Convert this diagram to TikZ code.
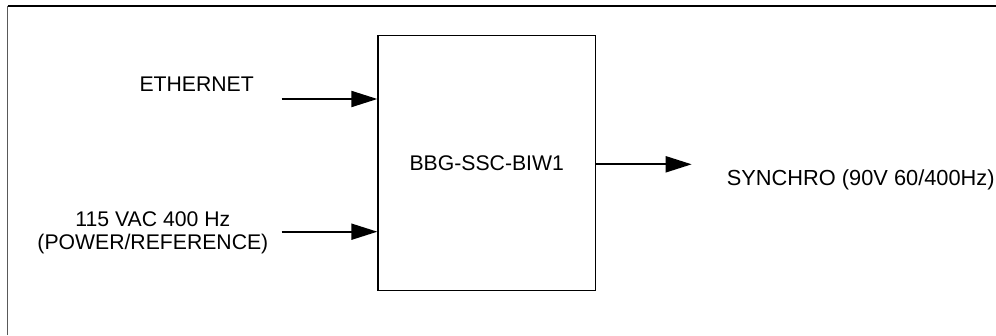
\documentclass[tikz,border=0pt]{standalone}
\usepackage{fontspec}
\setmainfont{Liberation Sans}
\usetikzlibrary{arrows.meta}
\tikzset{
  lbl/.style={inner sep=0pt, font=\fontsize{21.2}{22.7}\selectfont},
  blockbox/.style={draw=black, line width=1.3pt, inner sep=0pt,
    minimum width=217.5pt, minimum height=255pt,
    font=\fontsize{21.2}{22.7}\selectfont},
  sig/.style={line width=2pt, -{Triangle[length=26pt,width=16pt]}},
}
\begin{document}
\begin{tikzpicture}[x=1pt,y=-1pt]
\useasboundingbox (0,0) rectangle (996,335);
% outer frame (only left and top edges fall inside the sheet)
\coordinate (fbl) at (7.5,335);
\coordinate (ftl) at (7.5,6);
\coordinate (ftr) at (996,6);
\draw[line width=1.5pt, black!65] (fbl) -- (ftl);
\draw[line width=1.5pt, black] (ftl) -- (ftr);

% central unit
\node[blockbox] (unit) at (486.75,163) {BBG-SSC-BIW1};

% inputs
\node[lbl, anchor=base] (eth) at (196.7,91.7) {ETHERNET};
\coordinate (ethin) at (281.7,99);
\draw[sig] (ethin) -- (unit.west |- ethin);

\node[lbl, anchor=north east, align=center] (pwr) at (268.5,211.7) {115 VAC 400 Hz\\(POWER/REFERENCE)};
\coordinate (pwrin) at (281.7,231.7);
\draw[sig] (pwrin) -- (unit.west |- pwrin);

% output
\coordinate (synout) at (691.7,164.3);
\draw[sig] (unit.east |- synout) -- (synout);
\node[lbl, anchor=base west, font=\fontsize{21.8}{22.7}\selectfont] (syn) at (726.7,185.3) {SYNCHRO (90V 60/400Hz)};
\end{tikzpicture}
\end{document}
